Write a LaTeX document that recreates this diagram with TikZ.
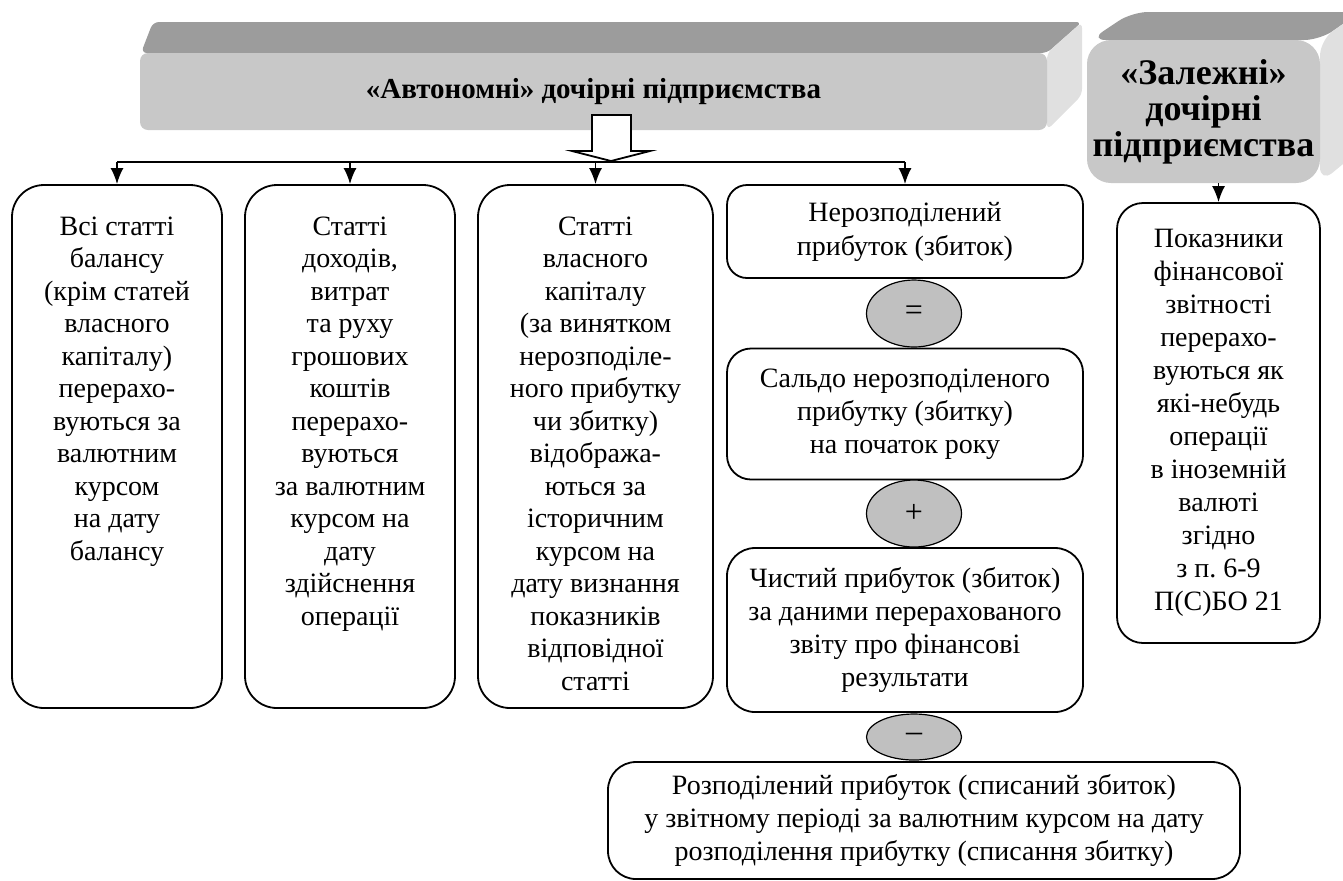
\documentclass[tikz,border=0pt]{standalone}
\usepackage{fontspec}
\setmainfont{Liberation Serif}
\usetikzlibrary{arrows.meta,positioning,calc,shapes.geometric}
\definecolor{FaceGray}{HTML}{C8C8C8}
\definecolor{TopGray}{HTML}{9C9C9C}
\definecolor{SideGray}{HTML}{E0E0E0}
\definecolor{OvalGray}{HTML}{C0C0C0}
\frenchspacing

\begin{document}
\begin{tikzpicture}[x=0.5pt,y=-0.5pt,
  every node/.style={font=\fontsize{14}{16.5}\selectfont},
  box/.style={draw, line width=0.9pt, rounded corners=16pt, inner sep=0pt},
  txt/.style={align=center, inner sep=0pt, font=\fontsize{14}{16.25}\selectfont},
  oval/.style={draw, ellipse, fill=OvalGray, line width=0.6pt, inner sep=0pt,
               font=\fontsize{16}{16}\selectfont},
  face/.style={fill=FaceGray, inner sep=0pt, align=center},
  >={Latex[length=8pt,width=6.5pt]}]
  \useasboundingbox (0,0) rectangle (1343,880);

  % "autonomous" banner, drawn as a flat 3d bar
  \fill[TopGray, rounded corners=3pt] (141,53) -- (153,22) -- (1082,22) -- (1047,53) -- cycle;
  \fill[SideGray, rounded corners=3pt] (1047,53) -- (1082,22) -- (1082,95) -- (1047,130) -- cycle;
  \node[face, rounded corners=4pt, minimum width=453.5pt, minimum height=38.5pt,
        font=\fontsize{14.5}{16}\selectfont\bfseries] (auto) at (593.5,91.5)
    {«Автономні» дочірні підприємства};

  % "dependent" block
  \fill[TopGray, rounded corners=8pt] (1090,40) -- (1132,12) -- (1360,12) -- (1320,40) -- cycle;
  \fill[SideGray, rounded corners=8pt] (1320,40) -- (1360,12) -- (1360,150) -- (1320,183) -- cycle;
  \node[face, rounded corners=12pt, minimum width=116.5pt, minimum height=71.5pt,
        font=\fontsize{18}{18}\selectfont\bfseries] (dep) at (1203.5,111.5)
    {«Залежні»\\ дочірні\\ підприємства};

  % hollow arrow out of the banner
  \draw[line width=0.9pt, fill=white] (592,115) -- (631,115) -- (631,151) -- (650,151)
    -- (611,161) -- (572,151) -- (592,151) -- cycle;

  % tall boxes
  \node[box, minimum width=105pt, minimum height=261.5pt] (b1) at (117,446.5) {};
  \node[box, minimum width=105pt, minimum height=261.5pt] (b2) at (350,446.5) {};
  \node[box, minimum width=117.5pt, minimum height=261.5pt] (b3) at (595.5,446.5) {};

  \node[txt, anchor=north] (t1) at ($(b1.north)+(0,32)$)
    {Всі статті\\ балансу\\ (крім статей\\ власного\\ капіталу)\\ перерахо-\\ вуються за\\ валютним\\ курсом\\ на дату\\ балансу};
  \node[txt, anchor=north] (t2) at ($(b2.north)+(0,32)$)
    {Статті\\ доходів,\\ витрат\\ та руху\\ грошових\\ коштів\\ перерахо-\\ вуються\\ за валютним\\ курсом на\\ дату\\ здійснення\\ операції};
  \node[txt, anchor=north] (t3) at ($(b3.north)+(0,32)$)
    {Статті\\ власного\\ капіталу\\ (за винятком\\ нерозподіле-\\ ного прибутку\\ чи збитку)\\ відобража-\\ ються за\\ історичним\\ курсом на\\ дату визнання\\ показників\\ відповідної\\ статті};

  % retained earnings column
  \node[box, rounded corners=10pt, align=center, minimum width=178pt, minimum height=46.5pt,
        font=\fontsize{14}{17}\selectfont] (b4) at (905,231.5)
    {Нерозподілений\\ прибуток (збиток)};
  \node[oval, minimum width=47.5pt, minimum height=33.5pt] (eq) at (914,313.5) {=};
  \node[box, rounded corners=12pt, align=center, minimum width=178pt, minimum height=65.5pt] (sal) at (905,414)
    {Сальдо нерозподіленого\\ прибутку (збитку)\\ на початок року};
  \node[oval, minimum width=47.5pt, minimum height=33.5pt] (plus) at (914,513.5) {+};
  \node[box, rounded corners=14pt, align=center, minimum width=178pt, minimum height=82pt] (net) at (905,630)
    {Чистий прибуток (збиток)\\ за даними перерахованого\\ звіту про фінансові\\ результати};
  \node[oval, minimum width=47.5pt, minimum height=23pt] (minus) at (914,737) {–};
  \node[box, rounded corners=14pt, align=center, minimum width=316pt, minimum height=58.5pt] (dist) at (924,820.5)
    {Розподілений прибуток (списаний збиток)\\ у звітному періоді за валютним курсом на дату\\ розподілення прибутку (списання збитку)};

  % indicators box
  \node[box, rounded corners=13pt, align=center, minimum width=101.5pt, minimum height=220pt] (pok) at (1218.5,423)
    {Показники\\ фінансової\\ звітності\\ перерахо-\\ вуються як\\ які-небудь\\ операції\\ в іноземній\\ валюті\\ згідно\\ з п. 6-9\\ П(С)БО 21};

  % bus and arrows
  \coordinate (busL) at (117,162);
  \coordinate (busR) at (905,162);
  \draw[line width=0.9pt] (busL) -- (busR);
  \foreach \b in {b1,b2,b3,b4}
    \draw[->, line width=0.9pt] (\b.north |- busL) -- (\b.north);
  \draw[->, line width=0.9pt] (pok.north |- dep.south) -- (pok.north);
\end{tikzpicture}
\end{document}
